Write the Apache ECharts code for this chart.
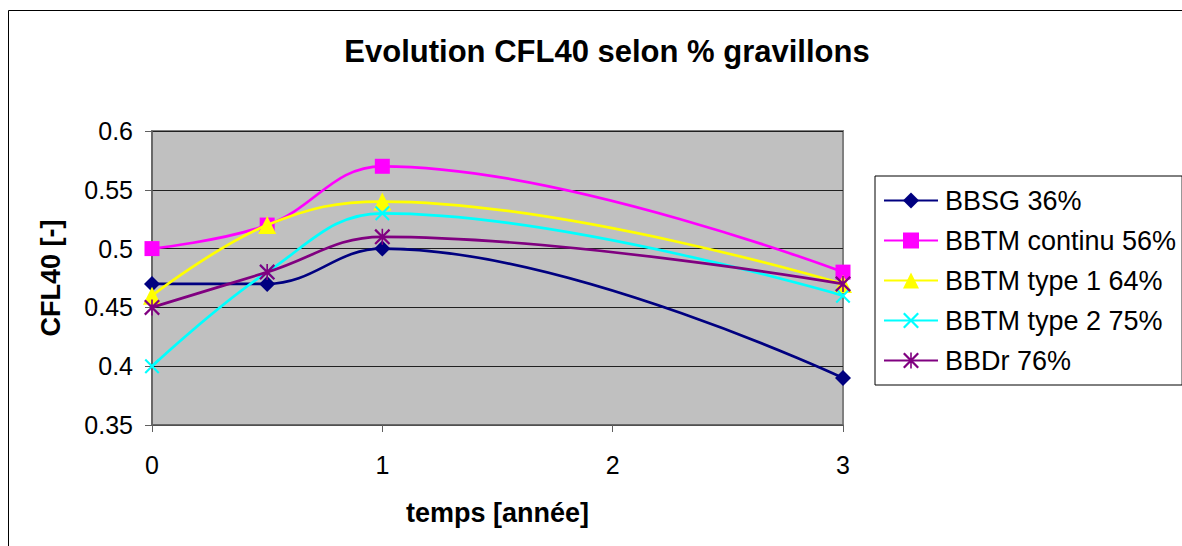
<!DOCTYPE html>
<html>
<head>
<meta charset="utf-8">
<script src="https://cdn.jsdelivr.net/npm/echarts@6/dist/echarts.min.js"></script>
<style>
html,body{margin:0;padding:0;background:#fff;}
#c{width:1182px;height:546px;}
</style>
</head>
<body>
<div id="c"></div>
<script>
const xValues = [0, 0.5, 1, 3];
const seriesNames = ['BBSG 36%', 'BBTM continu 56%', 'BBTM type 1 64%', 'BBTM type 2 75%', 'BBDr 76%'];
const bbsg = [0.47, 0.47, 0.50, 0.39];
const bbtmContinu = [0.50, 0.52, 0.57, 0.48];
const bbtmType1 = [0.46, 0.52, 0.54, 0.47];
const bbtmType2 = [0.40, 0.48, 0.53, 0.46];
const bbdr = [0.45, 0.48, 0.51, 0.47];
const xTicks = [0, 1, 2, 3];
const yTicks = [0.35, 0.4, 0.45, 0.5, 0.55, 0.6];

const allValues = [bbsg, bbtmContinu, bbtmType1, bbtmType2, bbdr];
const colors = ['#000080', '#FF00FF', '#FFFF00', '#00FFFF', '#800080'];
const xPath = 'path://M0,2 L2,0 L10,8 L18,0 L20,2 L12,10 L20,18 L18,20 L10,12 L2,20 L0,18 L8,10 Z';
const starPath = 'path://M0,2 L2,0 L10,8 L18,0 L20,2 L12,10 L20,18 L18,20 L10,12 L2,20 L0,18 L8,10 Z M9,0 L11,0 L11,20 L9,20 Z';
const symbols = ['diamond', 'rect', 'triangle', xPath, starPath];
const symbolSizes = [16, 15, 18, 15, 16];

const chart = echarts.init(document.getElementById('c'), null, {renderer: 'svg'});
const font = 'Arial, "Liberation Sans", sans-serif';

const series = seriesNames.map((name, i) => ({
  name: name,
  type: 'line',
  data: xValues.map((x, j) => [x, allValues[i][j]]),
  smooth: 0.4,
  symbol: symbols[i],
  symbolSize: symbolSizes[i],
  showAllSymbol: true,
  lineStyle: {color: colors[i], width: 2.7},
  itemStyle: {color: colors[i]},
  z: 2 + i
}));

chart.setOption({
  animation: false,
  backgroundColor: '#fff',
  title: {
    text: 'Evolution CFL40 selon % gravillons',
    left: 602, top: 31, textAlign: 'center',
    textStyle: {fontFamily: font, fontSize: 31, fontWeight: 'bold', color: '#000'}
  },
  graphic: [
    {type: 'rect', shape: {x: 8.5, y: 10.5, width: 1300, height: 700},
     style: {fill: 'none', stroke: '#000', lineWidth: 1}, silent: true}
  ],
  legend: {
    orient: 'vertical', left: 875, top: 176,
    data: seriesNames,
    itemWidth: 54, itemHeight: 20, itemGap: 13,
    padding: [11, 6, 11, 8],
    borderColor: '#000', borderWidth: 1,
    textStyle: {fontFamily: font, fontSize: 27, lineHeight: 27, color: '#000', padding: [0, 0, 0, 2]}
  },
  grid: {
    left: 152, top: 131, width: 691, height: 294,
    show: true, backgroundColor: '#C0C0C0', borderColor: '#808080', borderWidth: 2
  },
  xAxis: {
    type: 'value', min: 0, max: 3, interval: 1,
    name: 'temps [année]', nameLocation: 'middle', nameGap: 74,
    nameTextStyle: {fontFamily: font, fontSize: 27, fontWeight: 'bold', color: '#000'},
    axisLine: {show: true, lineStyle: {color: '#606060', width: 1.5}},
    axisTick: {show: true, inside: false, length: 7, lineStyle: {color: '#606060'}},
    axisLabel: {fontFamily: font, fontSize: 25, color: '#000', margin: 27,
      formatter: v => xTicks.indexOf(v) >= 0 ? String(v) : ''},
    splitLine: {show: false}
  },
  yAxis: {
    type: 'value', min: 0.35, max: 0.6, interval: 0.05,
    name: 'CFL40 [-]', nameLocation: 'middle', nameGap: 88,
    nameTextStyle: {fontFamily: font, fontSize: 27, fontWeight: 'bold', color: '#000'},
    axisLine: {show: true, lineStyle: {color: '#606060', width: 1.5}},
    axisTick: {show: true, inside: false, length: 7, lineStyle: {color: '#606060'}},
    axisLabel: {fontFamily: font, fontSize: 25, color: '#000', margin: 19,
      formatter: v => {
        const r = Math.round(v * 100) / 100;
        return String(r);
      }},
    splitLine: {show: true, lineStyle: {color: '#202020', width: 1}}
  },
  series: series
});
</script>
</body>
</html>
